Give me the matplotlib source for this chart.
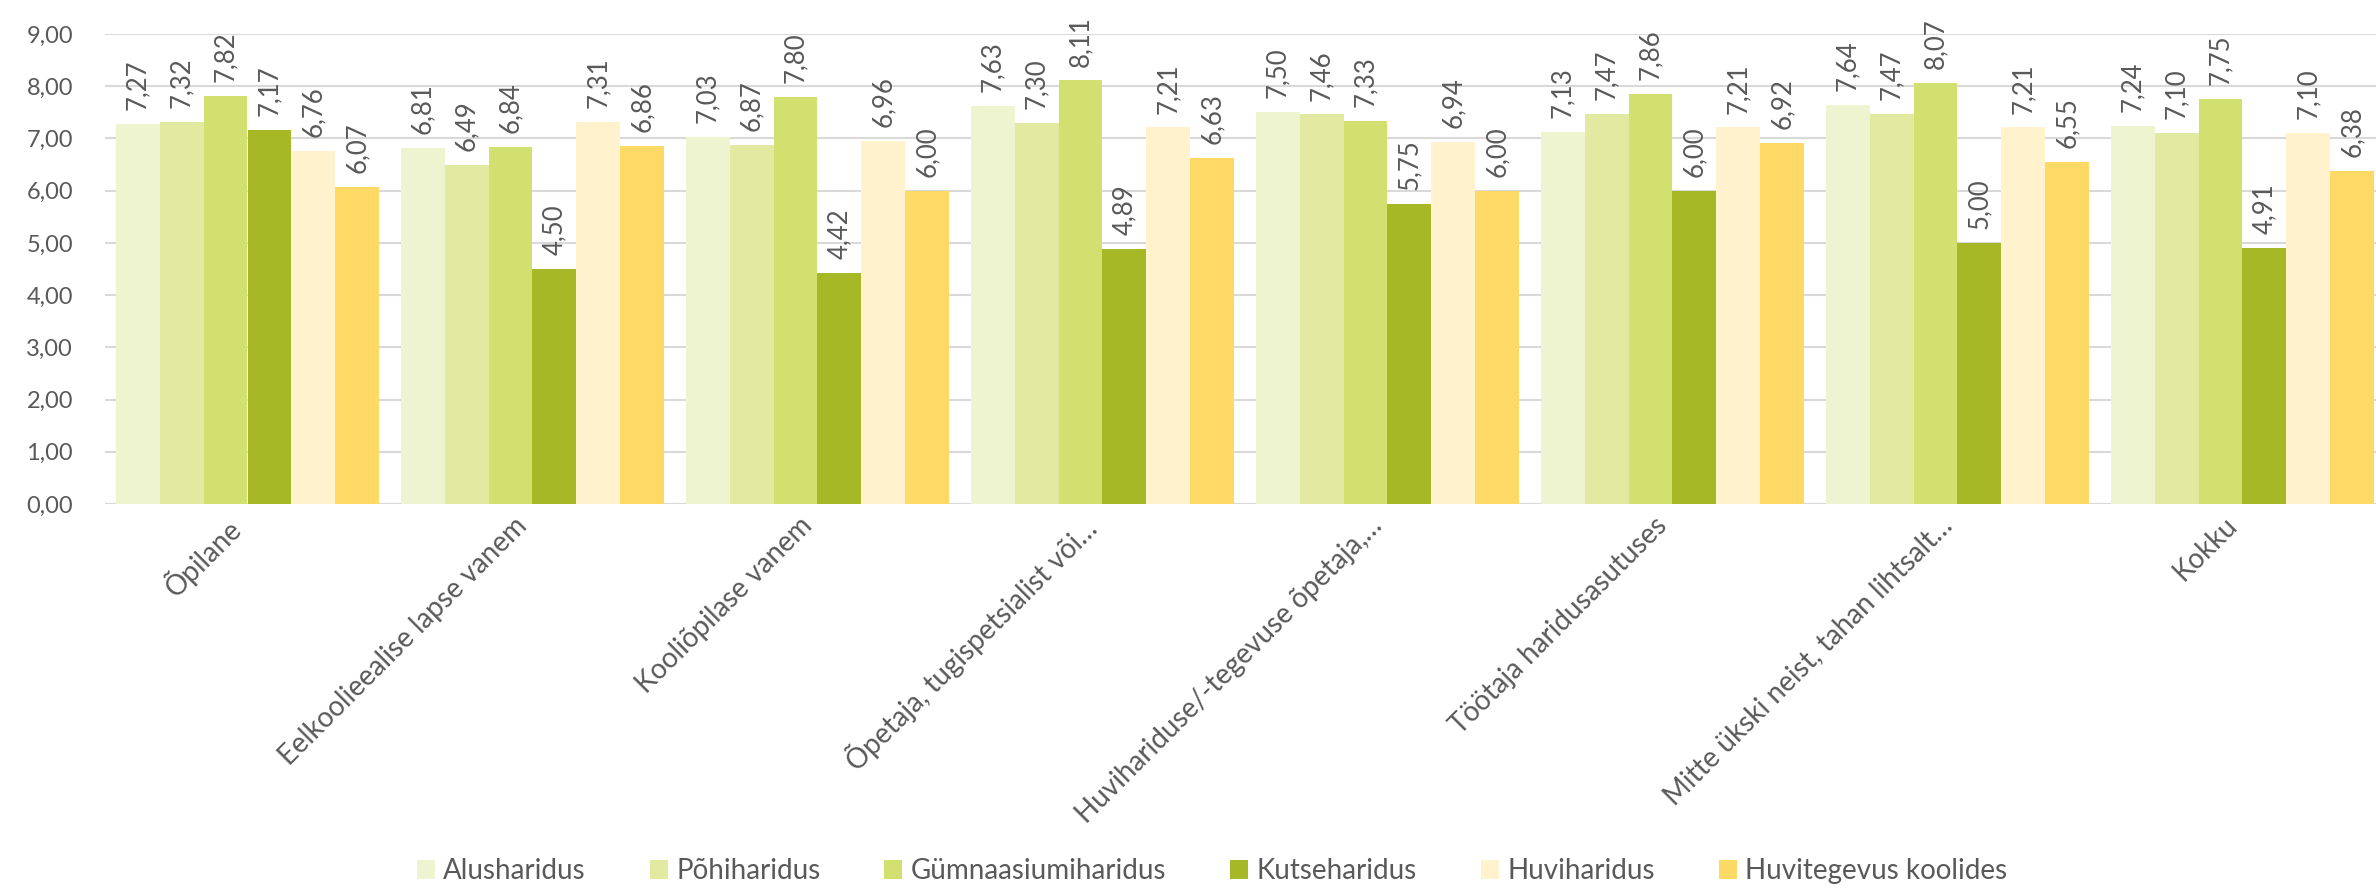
import matplotlib
matplotlib.use("Agg")
import matplotlib.pyplot as plt
import numpy as np

categories = [
    "Õpilane",
    "Eelkoolieealise lapse vanem",
    "Kooliõpilase vanem",
    "Õpetaja, tugispetsialist või…",
    "Huvihariduse/-tegevuse õpetaja,…",
    "Töötaja haridusasutuses",
    "Mitte ükski neist, tahan lihtsalt…",
    "Kokku",
]
series_names = ["Alusharidus", "Põhiharidus", "Gümnaasiumiharidus",
                "Kutseharidus", "Huviharidus", "Huvitegevus koolides"]

alusharidus = [7.27, 6.81, 7.03, 7.63, 7.50, 7.13, 7.64, 7.24]
pohiharidus = [7.32, 6.49, 6.87, 7.30, 7.46, 7.47, 7.47, 7.10]
gymnaasiumiharidus = [7.82, 6.84, 7.80, 8.11, 7.33, 7.86, 8.07, 7.75]
kutseharidus = [7.17, 4.50, 4.42, 4.89, 5.75, 6.00, 5.00, 4.91]
huviharidus = [6.76, 7.31, 6.96, 7.21, 6.94, 7.21, 7.21, 7.10]
huvitegevus_koolides = [6.07, 6.86, 6.00, 6.63, 6.00, 6.92, 6.55, 6.38]

series = [alusharidus, pohiharidus, gymnaasiumiharidus,
          kutseharidus, huviharidus, huvitegevus_koolides]
colors = ["#EEF3D0", "#E1EAA0", "#D2E070", "#A7B827", "#FFF2CC", "#FFD966"]

FONT = ["Lato", "DejaVu Sans"]
plt.rcParams["font.family"] = FONT
TXT = "#595959"

W, H = 2376, 888
fig = plt.figure(figsize=(W / 100, H / 100), dpi=100)
ax = fig.add_axes([105 / W, (H - 504) / H, 2280 / W, (504 - 34) / H])

x = np.arange(len(categories))
n = len(series)
group_w = 0.923
bw = group_w / n
for i, (vals, c, name) in enumerate(zip(series, colors, series_names)):
    pos = x - group_w / 2 + bw * (i + 0.5)
    ax.bar(pos, vals, width=bw, color=c, label=name, zorder=2, linewidth=0)
    for xp, v in zip(pos, vals):
        ax.annotate(f"{v:.2f}".replace(".", ","), xy=(xp, v), xytext=(0, 10),
                    textcoords="offset points", rotation=90, ha="center",
                    va="bottom", fontsize=18.5, color=TXT, annotation_clip=False)

ax.set_xlim(-0.5, len(categories) - 0.5)
ax.set_ylim(0, 9)
ax.set_yticks(np.arange(0, 10, 1))
ax.set_yticklabels([f"{v:.2f}".replace(".", ",") for v in np.arange(0, 10, 1)])
ax.yaxis.grid(True, color="#D9D9D9", linewidth=1.5, zorder=0)
ax.set_axisbelow(True)
for s in ax.spines.values():
    s.set_visible(False)
ax.axhline(0, color="#D9D9D9", linewidth=1.5, zorder=1)
ax.tick_params(axis="y", length=0, pad=23, labelsize=17, labelcolor=TXT)
ax.tick_params(axis="x", length=0, pad=6, labelsize=20, labelcolor=TXT)
ax.set_xticks(x)
ax.set_xticklabels(categories, rotation=45, ha="right", va="top")

leg = fig.legend(loc="center", bbox_to_anchor=(1212 / W, 1 - 871 / H), ncol=6,
                 frameon=False, fontsize=20, handlelength=0.65, handleheight=0.65,
                 handletextpad=0.3, columnspacing=2.3, labelcolor=TXT)

fig.savefig("out.png", dpi=100)
